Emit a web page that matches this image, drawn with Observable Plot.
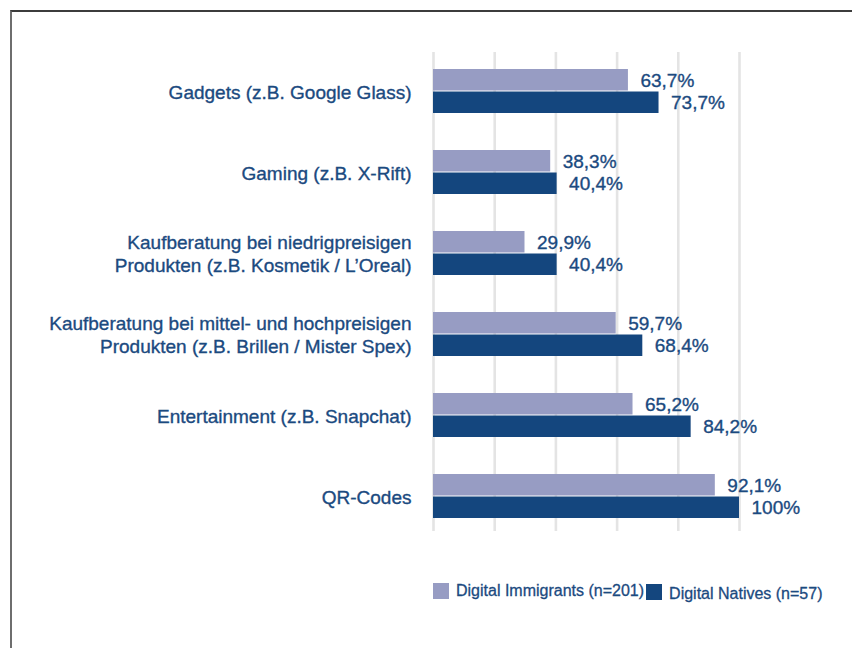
<!DOCTYPE html>
<html>
<head>
<meta charset="utf-8">
<script src="https://cdn.jsdelivr.net/npm/d3@7"></script>
<script src="https://cdn.jsdelivr.net/npm/@observablehq/plot@0.6"></script>
<style>
  html, body { margin: 0; padding: 0; background: #fff; }
  body { width: 852px; height: 648px; position: relative; overflow: hidden; font-family: "Liberation Sans", Arial, sans-serif; }
  #frame { position: absolute; left: 10px; top: 10px; width: 860px; height: 660px;
           border-left: 2px solid #6e6e6e; border-top: 2px solid #3c3c3c; box-sizing: border-box; }
  #chart { position: absolute; left: 0; top: 0; }
  #chart svg text { stroke: #1b4a80; stroke-width: 0.35px; }
  #legend { position: absolute; left: 433px; top: 583px; display: flex; align-items: flex-start;
            font-size: 16px; color: #1b4a80; white-space: nowrap; -webkit-text-stroke: 0.3px #1b4a80; }
  .sw { display: inline-block; width: 16px; height: 16px; }
  .item { display: flex; align-items: flex-start; }
  .lbl { line-height: 16px; }
</style>
</head>
<body>
<div id="frame"></div>
<div id="chart"></div>
<div id="legend"></div>
<script>
const categories = [
  "Gadgets (z.B. Google Glass)",
  "Gaming (z.B. X-Rift)",
  "Kaufberatung bei niedrigpreisigen\nProdukten (z.B. Kosmetik / L’Oreal)",
  "Kaufberatung bei mittel- und hochpreisigen\nProdukten (z.B. Brillen / Mister Spex)",
  "Entertainment (z.B. Snapchat)",
  "QR-Codes"
];
const immigrants = [63.7, 38.3, 29.9, 59.7, 65.2, 92.1];
const natives = [73.7, 40.4, 40.4, 68.4, 84.2, 100];
const seriesNames = ["Digital Immigrants (n=201)", "Digital Natives (n=57)"];
const seriesColors = ["#979cc3", "#14467e"];
const gridTicks = [0, 20, 40, 60, 80, 100];

const textColor = "#1b4a80";
const fmt = v => (Number.isInteger(v) ? String(v) : v.toFixed(1).replace(".", ",")) + "%";

const dataI = categories.map((c, i) => ({cat: c, value: immigrants[i]}));
const dataN = categories.map((c, i) => ({cat: c, value: natives[i]}));

const chart = Plot.plot({
  width: 852,
  height: 560,
  marginLeft: 433,
  marginRight: 113,
  marginTop: 52,
  marginBottom: 29,
  style: {fontFamily: "'Liberation Sans', Arial, sans-serif", fontSize: "19px", color: textColor, background: "transparent"},
  x: {domain: [0, 100], axis: null},
  y: {domain: categories, paddingInner: 0.4575, paddingOuter: 0.18, align: 0.58, axis: null},
  marks: [
    Plot.ruleX(gridTicks, {stroke: "#e4e4e4", strokeWidth: 2.6}),
    Plot.barX(dataI, {y: "cat", x: "value", fill: seriesColors[0], insetBottom: 22.5}),
    Plot.barX(dataN, {y: "cat", x: "value", fill: seriesColors[1], insetTop: 22.5}),
    Plot.text(dataI, {y: "cat", x: "value", text: d => fmt(d.value), dy: -11, dx: 12, textAnchor: "start", fill: textColor, fontSize: 19}),
    Plot.text(dataN, {y: "cat", x: "value", text: d => fmt(d.value), dy: 11, dx: 12, textAnchor: "start", fill: textColor, fontSize: 19}),
    Plot.axisY({tickSize: 0, tickPadding: 22, label: null, fontSize: 19, lineHeight: 1.2, fill: textColor})
  ]
});
document.getElementById("chart").appendChild(chart);

const legend = document.getElementById("legend");
seriesNames.forEach((name, i) => {
  const item = document.createElement("div");
  item.className = "item";
  item.style.marginTop = i === 1 ? "1px" : "0px";
  const sw = document.createElement("span");
  sw.className = "sw";
  sw.style.background = seriesColors[i];
  const lbl = document.createElement("span");
  lbl.className = "lbl";
  lbl.textContent = name;
  lbl.style.marginLeft = "7px";
  lbl.style.marginTop = i === 1 ? "2px" : "0px";
  item.appendChild(sw);
  item.appendChild(lbl);
  if (i === 0) item.style.marginRight = "2px";
  legend.appendChild(item);
});
</script>
</body>
</html>
